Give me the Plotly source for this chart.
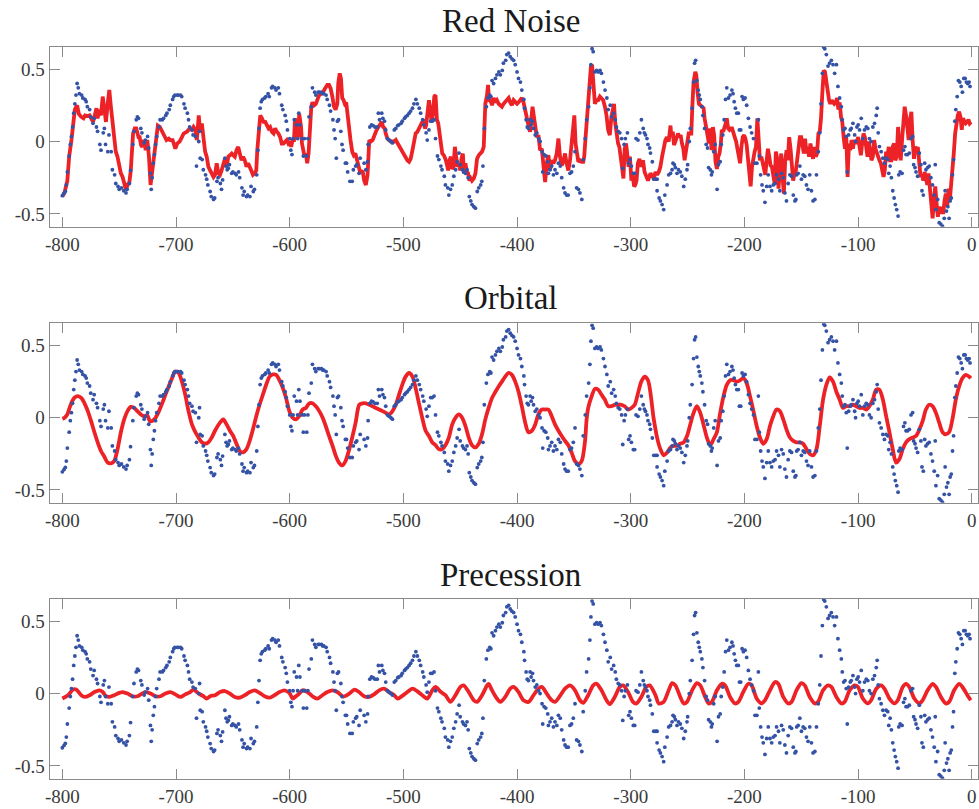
import plotly.graph_objects as go

# ---------------- data ----------------
dot_age = [
-800,-798.5,-797.4,-796.5,-795.6,-794,-793,-792,-791,-790,-789,-788,-787,-786,-785,-783,-782,-780,-779,-778,
-776,-775,-773,-772,-770,-769,-767,-766,-764,-763,-762,-760,-759,-757,-756,-754,-753,-751,-750,-748,
-746,-744,-743,-741,-740,-738,-737,-735,-734,-733,-731,-730,-728,-727,-725,-724,-722.5,-721.8,-721,-720,
-719,-718,-717,-715,-714,-712,-711,-709,-708,-706,-705,-703,-702,-701,-699,-698,-696,-695,-693,-692,
-690,-689,-688,-686,-685,-683,-682,-680,-679.3,-678.7,-677,-676,-674,-673,-672,-670,-669,-667,-666,-664,
-663,-661,-660,-659,-657,-656,-655,-654,-653,-651,-650,-648,-647,-645,-644,-642,-641,-640,-638,-637,
-635,-634,-632,-631,-629,-628,-627,-626,-625,-624,-622,-621,-619,-618,-616,-615,-613,-612,-610,-609,
-607,-606,-604,-603,-602,-600,-599,-598,-597,-596,-594,-593,-592,-591,-589,-588,-587,-585,-584,-583,
-581,-580,-578,-577,-575,-574,-572,-571,-570,-568,-567,-565,-564,-562,-561,-560,-559,-558,-557,-555,
-554,-553,-551,-550,-549,-547,-545,-544,-542,-541,-539,-538,-534.5,-533,-531.5,-531,-529.5,-528,-526.6,-525,
-523,-522,-521,-519,-518,-516.6,-515.5,-514,-512.6,-511,-509.6,-508,-506.7,-505,-504,-502,-501,-499,-498,-496.5,
-495,-493.6,-492,-490.7,-489,-487.7,-486,-484.8,-483,-482,-480,-479,-477.5,-476,-474.6,-473,-471.7,-470,-468.8,-467,
-466,-464,-463,-461,-460,-458.5,-457,-455.6,-454,-452.7,-451,-450,-448,-447,-445.4,-444,-443,-442,-440.7,-439.6,
-438,-436.6,-435,-433.7,-432,-431,-430,-428.8,-427,-425.6,-424,-423,-422,-420.6,-419,-417.7,-416,-414.7,-413,-412,
-410,-409,-407.4,-406,-404.5,-403,-401.6,-400,-398.7,-397,-395.8,-394,-393.4,-392,-391,-390,-388.5,-387.6,-386.4,-385.5,
-384,-382.6,-381,-379.7,-378,-377.4,-376.2,-374.7,-373,-372.4,-371,-369.5,-368,-366.6,-365,-363.6,-362,-360.7,-359,-357.8,
-356.4,-355,-353.4,-352,-350.5,-349,-347.6,-346,-344.7,-343,-341.8,-340,-338.8,-337,-335.9,-335,-334,-333,-331.5,-330,
-328.6,-327,-325.8,-324,-322.6,-321,-319.8,-318,-316.8,-315,-313.6,-312.6,-311,-309.6,-308,-307,-305.8,-304.7,-302.9,-301.8,
-300.6,-299.4,-297.7,-296.5,-295.3,-293.6,-292,-290.6,-289,-288,-287,-285.7,-284.8,-283.3,-282.6,-281,-279.7,-278,-276.8,-276.8,
-275,-273.9,-272.4,-271,-270,-268,-266.6,-265,-263.6,-262.8,-261.6,-260.7,-259.3,-258,-256.4,-255,-253.4,-252,-250.5,-249.9,
-248.5,-247.6,-246,-244.7,-243.8,-242.9,-241.8,-240.6,-239.7,-238.8,-237.4,-236.5,-235,-233.6,-232.4,-231.5,-230,-229,-228.3,-227,
-225.7,-224,-222.8,-221.3,-220.4,-219,-217.8,-216.6,-215.5,-214,-212.6,-211,-210,-209,-207.9,-206.7,-205.3,-204.4,-203.2,-202,
-200.9,-199.4,-198,-196.5,-195,-193.6,-192,-190.7,-189,-187.7,-186.9,-185.7,-184.5,-183.4,-181.9,-180.4,-179,-177.5,-176,-174.6,
-173,-171.7,-170,-168.8,-167.3,-165.8,-164.4,-163,-161.5,-160,-158.5,-157,-155.5,-154.7,-154,-152.7,-151.2,-149.8,-148.3,-146.9,
-145.4,-144,-142.5,-141,-139.6,-138,-136.6,-135,-133.7,-132.6,-131.4,-130.2,-129.3,-127.9,-126.4,-125,-123.5,-122,-120.6,-119,
-117.7,-116.2,-114.7,-113.9,-112.7,-111.5,-110.4,-109.5,-108.3,-106.9,-106,-104.5,-103,-102.2,-101,-99.9,-98.7,-97.2,-95.8,-94.3,
-92.8,-91.4,-90,-88.5,-87,-85.5,-84,-83.2,-82.3,-81.2,-79.7,-78.2,-76.8,-75.3,-73.9,-73,-71.8,-70.7,-69.5,-68.3,
-67.2,-66,-64.8,-64.2,-63,-61.3,-60,-58.8,-57.8,-56.4,-54.9,-53.4,-52,-51.1,-49.9,-49,-47.6,-46.1,-44.7,-43.8,
-42.6,-41.4,-40.3,-38.8,-37.4,-35.9,-34.5,-33,-32.1,-31.5,-30,-28.6,-27.2,-25.7,-24.2,-23.4,-22.2,-21,-19.9,-19,
-18,-16.9,-16,-14.9,-14,-12.8,-11.7,-10.5,-9.3,-8.2,-7,-5.8,-4.7,-3.5,-2.3,-1.5]
dot_val = [
-0.374,-0.358,-0.344,-0.30,-0.21,-0.10,-0.02,0.035,0.10,0.195,0.26,0.32,0.40,0.37,0.33,0.32,0.30,0.29,0.275,0.24,
0.22,0.17,0.125,0.16,0.10,0.07,-0.02,-0.06,0.06,0.09,-0.02,-0.07,0.045,-0.07,-0.195,-0.23,-0.29,-0.31,-0.33,-0.32,
-0.34,-0.355,-0.33,-0.29,-0.20,-0.02,0.07,0.15,0.17,0.16,0.09,0.06,-0.01,0.01,0.035,-0.045,-0.22,-0.33,-0.25,-0.15,
-0.09,-0.02,0.035,0.10,0.15,0.15,0.16,0.18,0.195,0.22,0.25,0.29,0.31,0.32,0.32,0.32,0.32,0.31,0.26,0.23,
0.195,0.15,0.10,0.08,0.045,0.035,-0.17,0.0,0.07,-0.115,-0.125,-0.195,-0.23,-0.26,-0.30,-0.345,-0.38,-0.40,-0.39,-0.275,
-0.25,-0.29,-0.33,-0.265,-0.115,-0.17,-0.195,-0.185,-0.16,-0.22,-0.21,-0.22,-0.23,-0.21,-0.25,-0.32,-0.37,-0.345,-0.38,-0.37,
-0.38,-0.31,-0.345,-0.33,-0.23,-0.06,0.09,0.23,0.275,0.29,0.30,0.31,0.33,0.31,0.37,0.38,0.37,0.355,0.37,0.33,
0.25,0.22,0.18,0.14,0.08,0.02,-0.06,-0.09,0.02,0.15,0.115,0.02,0.195,0.115,0.02,-0.10,0.02,-0.10,0.02,0.17,
0.24,0.37,0.34,0.32,0.34,0.34,0.34,0.33,0.33,0.32,0.29,0.25,0.21,0.15,0.08,0.02,-0.115,0.14,0.15,0.07,
-0.02,-0.06,-0.15,-0.15,-0.21,-0.275,-0.275,-0.195,-0.17,-0.16,-0.22,-0.115,-0.15,-0.195,-0.14,-0.02,0.10,0.115,0.11,0.10,
0.10,0.195,0.15,0.195,0.16,0.14,0.08,0.02,0.01,0.0,-0.01,0.08,0.09,0.11,0.115,0.125,0.14,0.16,0.17,0.18,
0.195,0.21,0.23,0.26,0.29,0.26,0.23,0.195,0.15,0.115,0.06,0.01,0.08,0.14,0.14,0.15,0.02,-0.10,-0.125,-0.17,
-0.195,-0.24,-0.30,-0.32,-0.37,-0.33,-0.30,-0.24,-0.195,-0.14,-0.08,-0.16,-0.195,-0.21,-0.22,-0.195,-0.25,-0.38,-0.41,-0.435,
-0.45,-0.46,-0.345,-0.32,-0.30,-0.275,-0.17,0.09,0.24,0.30,0.32,0.31,0.42,0.40,0.435,0.46,0.48,0.46,0.49,0.54,
0.56,0.60,0.61,0.585,0.57,0.56,0.53,0.48,0.435,0.41,0.355,0.29,0.23,0.15,0.10,0.09,0.15,0.115,0.14,0.09,
0.045,0.06,0.02,0.0,-0.07,-0.21,-0.09,-0.10,-0.14,-0.22,-0.195,-0.17,-0.23,-0.195,-0.22,-0.15,-0.17,-0.25,-0.32,-0.355,
-0.37,-0.37,-0.22,-0.21,-0.17,-0.07,-0.32,-0.33,-0.355,-0.40,-0.125,0.02,0.15,0.24,0.37,0.53,0.64,0.62,0.48,0.49,
0.48,0.49,0.47,0.41,0.355,0.30,0.22,0.25,0.17,0.195,0.15,0.10,0.07,0.06,0.02,-0.185,-0.02,0.02,0.06,-0.15,
-0.125,-0.17,-0.22,-0.22,0.02,0.01,0.06,0.15,0.09,0.06,0.045,0.02,-0.02,-0.045,-0.08,-0.14,-0.26,-0.26,-0.26,-0.34,
-0.39,-0.41,-0.435,-0.47,-0.37,-0.30,-0.23,-0.22,-0.195,-0.15,-0.16,-0.18,-0.22,-0.195,-0.21,-0.24,-0.31,-0.26,-0.195,-0.16,
0.0,0.09,0.23,0.41,0.54,0.56,0.42,0.355,0.32,0.29,0.24,0.18,0.09,-0.02,-0.045,-0.18,-0.195,-0.23,-0.21,-0.07,
-0.02,-0.33,-0.16,-0.14,-0.02,0.045,0.15,0.29,0.37,0.30,0.32,0.355,0.33,0.275,0.23,0.195,0.195,0.08,0.08,0.31,
0.29,0.30,0.25,0.16,0.10,0.06,0.02,-0.15,-0.15,0.15,-0.10,-0.23,-0.30,-0.34,-0.42,-0.31,-0.23,-0.31,-0.34,-0.30,
-0.29,-0.23,-0.26,-0.34,-0.22,-0.25,-0.355,-0.41,-0.29,-0.23,-0.24,-0.37,-0.41,-0.40,-0.23,-0.22,-0.17,-0.26,-0.23,-0.24,
-0.30,-0.33,-0.23,-0.34,-0.41,-0.40,-0.23,-0.07,0.06,0.26,0.47,0.65,0.64,0.60,0.52,0.54,0.56,0.53,0.47,0.53,
0.38,0.30,0.24,0.15,0.08,0.09,0.035,-0.21,0.045,0.08,0.09,0.125,0.045,0.0,0.10,0.115,0.08,0.16,0.02,0.08,
0.10,0.09,0.02,0.0,0.10,0.125,0.18,0.23,0.06,-0.035,-0.07,-0.115,-0.15,-0.115,-0.125,-0.22,-0.17,-0.25,-0.34,-0.39,
-0.435,-0.47,-0.515,-0.23,-0.21,-0.22,-0.06,-0.035,-0.09,-0.09,-0.08,0.02,0.035,-0.16,-0.18,-0.21,-0.24,-0.08,-0.16,-0.34,
-0.37,-0.15,-0.195,-0.18,-0.17,-0.25,-0.30,-0.37,-0.16,-0.47,-0.40,-0.56,-0.57,-0.585,-0.53,-0.34,-0.48,-0.45,-0.53,-0.41,
-0.39,-0.23,-0.125,0.14,0.22,0.31,0.42,0.41,0.38,0.34,0.435,0.435,0.41,0.40,0.41,0.38]

rn_age = [
-800,-798,-795.6,-794,-792,-790.7,-789,-787,-785.5,-783.4,-781.4,-780,-777.6,-776,-774.7,-773,-771.8,-770,-769,-767.4,
-766,-764.5,-763,-761.6,-760,-758.7,-757.3,-755.8,-754.4,-753,-751.5,-750,-748.5,-747,-745.6,-744,-742.7,-741,-739.8,-739,
-737.8,-736.3,-735,-733,-732,-730.8,-729.7,-728.2,-726.7,-725.3,-723.8,-722.4,-721,-719.5,-718,-716,-714.2,-712.2,-709.9,-708.4,
-706.4,-705,-703,-700.6,-699,-696.8,-694.8,-693.3,-690.4,-688,-686,-684.6,-683,-681.7,-680,-678.8,-677.3,-675.9,-674.4,-673,
-671.5,-670,-668.6,-667,-665.7,-664.2,-662.8,-661.3,-659.9,-658.4,-657,-655.5,-654,-652.6,-651,-649.7,-648.3,-646.8,-645.3,-643.9,
-642.4,-641,-639.5,-638,-636.6,-635.2,-633.7,-632.3,-630.8,-629.4,-628.5,-627.3,-625.9,-624.4,-623,-621.5,-620,-618.6,-617.2,-615.7,
-614.2,-612.8,-611.3,-609.9,-608.4,-607,-605.5,-604,-602.6,-601.2,-599.7,-598.8,-597.4,-596.2,-595.3,-594.2,-592.7,-591.6,-590,-589.2,
-588,-586.9,-585.8,-584.6,-583.4,-582.3,-581,-580,-578.5,-577,-575.6,-574.1,-572.4,-570.6,-568.9,-566.9,-565.4,-564,-562.5,-561,
-559.6,-558.1,-557.3,-556,-554.9,-553.8,-552.6,-551.5,-550.3,-549.1,-548,-546.5,-545,-543.6,-542.2,-540.7,-539.2,-537.8,
-535.9,-534.5,-533,-531.5,-530,-528.6,-527,-525.7,-524.2,-522.8,-521.3,-519.9,-518.9,-517.8,-516.4,-515.5,-514,-512.6,-511,-509.6,
-508.2,-506.7,-505.3,-503.8,-502.3,-500.9,-499.4,-498,-496.5,-495,-493.6,-492,-490.7,-489.2,-487.7,-486.3,-484.8,-483.4,-481.9,-481,
-480,-478.7,-477.5,-476.4,-475.2,-474,-472.8,-471.7,-470.5,-469.3,-468.2,-467,-465.8,-464.4,-463,-461.5,-460.6,-459.4,-458.2,-457,
-455.9,-454.7,-453.6,-452.4,-451.2,-450,-448.9,-447.7,-446.6,-445.4,-444.2,-443,-441.9,-440.7,-439.6,-438,-436.6,-435.2,-433.7,-432.3,
-430.8,-429.3,-427.9,-426.4,-425.5,-424.7,-423.5,-422,-420.6,-419.1,-417.7,-416.2,-414.7,-413.3,-411.8,-410.4,-408.9,-407.4,-406,-404.5,
-403,-401.6,-400,-398.7,-397.2,-395.8,-394.3,-392.8,-391.4,-389.9,-388.5,-387.6,-386.4,-385.3,-384,-382.6,-381.2,-379.7,-378.2,-376.8,
-375.3,-373.9,-372.4,-371,-369.5,-368,-366.6,-365.1,-363.6,-362.2,-360.7,-359.3,-357.8,-356.4,-354.9,-353.4,-352,-350.5,-349.6,-348.5,
-347.3,-346.1,-344.7,-343.2,-341.8,-340.9,-339.7,-338.5,-337.4,-336.2,-335,-334,-332.7,-331.5,-330,-328.6,-327.1,-325.7,-324.2,-322.7,
-321.3,-319.9,-318.4,-317,-315.5,-314.7,-313.6,-312.3,-311.1,-310,-308.8,-307.7,-306.4,-305.3,-304.1,-303,-301.8,-300.7,-299.4,-298.3,
-297.1,-296,-294.9,-293.7,-292.3,-290.6,-289.2,-287.8,-286.3,-284.8,
-282.6,-279.7,-278.2,-276.8,-275.3,-273.9,-272.4,-271,-269.5,-268,-266.6,-265,-264.2,-263,-261.9,-260.7,-259.6,-258.4,-257.2,-256.1,
-254.9,-253.7,-252.6,-251.4,-250.2,-249,-247.9,-246.7,-245.8,-244.7,-243.2,-242.3,-241.2,-240,-238.8,-237.4,-235.9,-235,-233.6,-232.4,
-231.2,-230,-228.9,-227.7,-226.6,-225.4,-224.2,-223,-221.9,-220.7,-219.9,-218.7,-217.5,-216.4,-215.5,-214.3,-213.1,-212,-210.8,-209.6,
-208.5,-207.3,-206.1,-205,-203.8,-202.6,-201.5,-200.3,-199.1,-198,-196.8,-195.6,-194.5,-193.3,-192.1,-191,-189.8,-188.6,-187.4,-186.3,
-185.1,-184,-182.8,-181.6,-180.4,-179.3,-178.1,-177,-175.8,-174.6,-173.4,-172.3,-171.1,-170,-168.8,-167.6,-166.4,-165.3,-164.1,-162.9,
-161.8,-160.6,-159.4,-158.2,-157.1,-155.9,-154.7,-153.6,-152.4,-151.2,-150,-148.9,-147.7,-146.6,-145.4,-144.2,-143.1,-141.9,-140.7,-139.6,
-138.4,-137.2,-136.1,-134.9,-133.7,-132.6,-131.4,-130.2,-129.1,-127.9,-126.7,-125.5,-124.4,-123.2,-122,-120.9,-119.7,-118.5,-117.3,-116.2,
-115,-113.9,-112.7,-111.5,-110.4,-109.2,-108,-106.9,-105.7,-104.5,-103.4,-102.2,-101,-99.9,-98.7,-97.5,-96.4,-95.2,-94,-92.8,
-91.7,-90.5,-89.3,-88.2,-87,-85.8,-84.7,-83.5,-82.3,-81.2,-80,-78.8,-77.6,-76.5,-75.3,-74.2,-73,-71.8,-70.7,-69.5,
-68.3,-67.2,-66,-64.8,-63.6,-62.5,-61.3,-60.1,-59,-57.8,-56.6,-55.5,-54.3,-53.1,-52,-50.8,-49.6,-48.5,-47.3,-46.1,
-45,-43.8,-42.6,-41.5,-40.3,-39.1,-38,-36.8,-35.6,-34.4,-33.3,-32.1,-30.9,-29.8,-28.6,-27.4,-26.3,-25.1,-23.9,-22.8,
-21.6,-20.4,-19.3,-18.1,-16.9,-15.8,-14.6,-13.4,-12.3,-11.1,-9.9,-8.8,-7.6,-6.4,-5.3,-4.1,-2.9,-1.8,-0.6]
rn_val = [
-0.38,-0.35,-0.27,-0.105,0.01,0.125,0.22,0.25,0.19,0.17,0.16,0.18,0.175,0.18,0.16,0.135,0.17,0.23,0.16,0.22,
0.18,0.31,0.22,0.135,0.27,0.355,0.24,0.125,0.01,-0.07,-0.105,-0.175,-0.22,-0.245,-0.29,-0.335,-0.30,-0.28,-0.20,-0.037,
0.055,0.09,0.09,0.03,0.03,-0.025,-0.037,0.01,-0.06,0.01,-0.105,-0.30,-0.20,-0.105,0.01,0.11,0.10,0.067,0.044,0.01,
0.02,0.01,0.01,-0.05,-0.014,0.0,0.03,0.055,0.067,0.09,0.08,0.10,0.08,0.01,0.18,0.067,0.125,0.01,-0.07,-0.105,
-0.175,-0.20,-0.22,-0.245,-0.23,-0.15,-0.22,-0.23,-0.20,-0.15,-0.12,-0.175,-0.105,-0.095,-0.083,-0.095,-0.105,-0.06,-0.037,-0.083,
-0.13,-0.105,-0.13,-0.175,-0.15,-0.175,-0.20,-0.23,-0.22,-0.20,-0.06,0.10,0.18,0.16,0.135,0.135,0.11,0.09,0.10,0.067,
0.055,0.09,0.067,0.055,0.03,-0.014,-0.014,0.0,0.01,-0.014,0.0,-0.037,0.01,0.01,0.16,0.067,0.03,0.19,0.10,-0.014,
-0.06,-0.105,-0.083,-0.15,-0.083,0.11,0.24,0.27,0.25,0.26,0.285,0.32,0.33,0.34,0.366,0.39,0.39,0.366,0.31,0.24,
0.22,0.26,0.40,0.47,0.435,0.30,0.285,0.26,0.27,0.17,0.10,0.01,-0.07,-0.095,-0.083,-0.13,-0.19,-0.22,
-0.20,-0.27,-0.30,-0.23,0.01,0.0,0.01,0.044,0.067,0.09,0.11,0.125,0.135,0.10,0.09,0.055,0.02,0.01,0.0,0.0,
0.0,0.01,-0.014,-0.025,-0.05,-0.07,-0.095,-0.12,-0.13,-0.14,-0.12,-0.06,0.01,0.055,0.067,0.09,0.125,0.135,0.15,0.09,
0.11,0.18,0.285,0.22,0.135,0.19,0.31,0.32,0.15,0.125,0.067,-0.014,-0.083,-0.095,-0.12,-0.165,-0.20,-0.13,-0.105,-0.19,
-0.175,-0.037,-0.105,-0.175,-0.15,-0.20,-0.12,-0.083,-0.22,-0.15,-0.21,-0.22,-0.27,-0.255,-0.27,-0.255,-0.22,-0.12,-0.095,-0.083,
-0.07,-0.037,0.26,0.32,0.39,0.285,0.285,0.25,0.30,0.27,0.285,0.26,0.25,0.24,0.26,0.27,0.285,0.30,0.27,0.25,
0.285,0.27,0.26,0.27,0.285,0.30,0.27,0.205,0.15,0.11,0.067,0.15,0.24,0.18,0.10,0.03,0.044,-0.06,-0.05,-0.15,
-0.28,-0.15,-0.095,-0.20,-0.13,-0.15,-0.13,-0.083,0.02,-0.105,-0.165,-0.14,-0.083,-0.15,-0.20,-0.13,-0.014,0.10,0.18,-0.014,
-0.105,-0.14,-0.13,-0.14,-0.14,-0.105,0.03,0.15,0.25,0.355,0.52,0.53,0.42,0.26,0.285,0.285,0.31,0.30,0.285,0.24,
0.18,0.08,0.044,0.17,0.22,0.26,0.125,0.03,-0.014,-0.037,-0.14,-0.175,-0.255,-0.05,-0.014,-0.083,-0.175,-0.105,-0.27,-0.22,
-0.31,-0.30,-0.27,-0.15,-0.12,-0.175,-0.13,-0.21,-0.245,-0.27,
-0.22,-0.255,-0.21,-0.23,-0.21,-0.175,-0.105,-0.037,0.01,0.03,0.0,0.11,0.03,0.067,-0.025,0.0,0.03,0.055,0.03,0.044,
-0.014,-0.05,-0.13,-0.05,0.01,0.055,0.055,0.055,0.24,0.41,0.48,0.46,0.34,0.26,0.25,0.24,0.23,0.16,0.09,0.055,
-0.014,0.09,-0.06,0.10,0.044,-0.14,-0.19,-0.105,-0.083,-0.014,0.08,0.067,0.09,0.125,0.16,0.09,0.08,0.09,0.09,0.067,
0.03,0.0,-0.05,-0.083,-0.15,-0.037,0.03,0.044,0.02,-0.025,-0.105,-0.20,-0.31,-0.175,-0.105,-0.07,-0.037,0.16,0.01,-0.13,
-0.105,-0.14,-0.175,-0.23,-0.13,-0.05,-0.105,-0.165,-0.175,-0.255,-0.29,-0.07,-0.12,-0.325,-0.20,-0.083,-0.245,-0.36,-0.13,-0.06,
-0.13,0.03,-0.05,-0.175,-0.27,-0.22,-0.20,-0.13,-0.06,0.03,0.03,-0.014,-0.083,0.02,-0.083,-0.037,-0.105,-0.014,-0.083,-0.12,
-0.037,-0.105,-0.083,0.055,0.067,0.16,0.34,0.49,0.48,0.40,0.31,0.285,0.26,0.285,0.27,0.26,0.27,0.30,0.22,0.27,
0.17,0.135,0.03,-0.05,0.03,-0.245,-0.014,-0.06,0.01,-0.05,0.01,-0.014,0.0,0.03,-0.037,-0.095,-0.014,0.055,0.03,-0.05,
-0.105,0.0,-0.105,-0.13,-0.105,0.01,-0.05,-0.083,-0.105,-0.13,-0.15,-0.22,-0.245,-0.20,-0.07,-0.105,-0.037,-0.13,-0.13,-0.037,
-0.014,-0.13,-0.105,0.10,-0.06,-0.13,0.01,0.15,0.24,0.18,0.055,0.01,0.15,0.205,0.01,-0.12,-0.037,-0.05,-0.05,-0.13,
-0.245,-0.23,-0.27,-0.21,-0.245,-0.30,-0.22,-0.31,-0.405,-0.53,-0.405,-0.31,-0.43,-0.52,-0.45,-0.50,-0.45,-0.50,-0.405,-0.36,
-0.45,-0.325,-0.405,-0.31,-0.20,-0.083,0.055,0.125,0.18,0.205,0.17,0.08,0.16,0.135,0.125,0.135,0.15,0.125,0.135]

orb_age = [
-800,-798,-795.6,-793.6,-791.6,-789.2,-786.3,-783.4,-780.5,-777.6,-774.7,-771.8,-768.9,-766,-763,-760.2,-757.3,-754.4,-751.5,-748.5,
-745.6,-742.7,-739.8,-736.9,-734,-731,-728.2,-725.3,-723,-721,-718,-715,-712.2,-709.3,-706.4,-703.5,-700.6,-697.7,-694.8,-691.9,
-689,-686,-683,-680.2,-677.3,-674.4,-671.5,-668.6,-665.7,-661.3,-658.4,-655.5,-652.6,-649.7,-646.8,-643.9,-641,-638,-635.2,-632.3,
-629.4,-626.5,-623.6,-620.6,-617.7,-614.8,-611.9,-609,-606,-603.2,-600.3,-597.4,-594.5,-591.6,-588.7,-585.8,-582.8,-580,-577,-574,
-571,-568.3,-565.4,-562.5,-559.6,-556.7,-553.8,-550.9,-548,-545,-542,
-538.8,-535.9,-533,-530,-527.2,-524.2,-521.3,-518.4,-515.5,-512.6,-509.6,-506.7,-503.8,-500.9,-498,-495,-492,-489.2,-486.3,-483.4,
-480.4,-477.5,-474.6,-471.7,-468.8,-465.8,-463,-460,-457,-454.2,-451.2,-448.3,-445.4,-442.5,-439.6,-436.6,-433.7,-430.8,-427.9,-425,
-422,-419,-416.2,-413.3,-410.4,-407.4,-404.5,-401.6,-398.7,-395.8,-392.8,-390,-387,-384,-381.2,-378.2,-375.3,-372.4,-369.5,-366.6,
-363.6,-360.7,-357.8,-354.9,-352,-349,-346.1,-343.2,-340.3,-338.8,-337.4,-334.4,-331.5,-328.6,-325.7,-322.8,-319.9,-317,-314,-311.1,
-308.2,-305.3,-302.3,-299.4,-296.5,-293.6,-290.7,-287.7,-284.8,
-279.7,-276.8,-273.9,-271,-268,-265,-262.2,-259.3,-256.4,-253.4,-250.5,-247.6,-244.7,-241.8,-238.8,-236,-233,-230,-227.2,-224.2,
-221.3,-218.4,-215.5,-212.6,-209.6,-206.7,-203.8,-200.9,-198,-195,-192,-189.2,-186.3,-183.4,-180.4,-177.5,-174.6,-171.7,-168.8,-165.8,
-163,-160,-157,-154.2,-151.2,-148.3,-145.4,-142.5,-139.6,-136.6,-133.7,-130.8,-127.9,-125,-122,-119.1,-116.2,-113.3,-110.4,-107.4,
-104.5,-101.6,-98.7,-95.8,-92.8,-90,-87,-84.1,-81.2,-78.2,-75.3,-72.4,-69.5,-66.6,-63.6,-60.7,-57.8,-54.9,-51.9,-49,
-46,-43.2,-40.3,-37.4,-34.5,-31.5,-28.6,-25.7,-22.8,-19.9,-17,-14,-11.1,-8.2,-5.3,-2.3,-0.8]
orb_val = [
-0.007,0.0,0.023,0.07,0.11,0.14,0.15,0.137,0.10,0.046,-0.023,-0.10,-0.17,-0.23,-0.27,-0.31,-0.315,-0.30,-0.22,-0.10,
-0.011,0.046,0.075,0.068,0.046,0.023,0.011,0.016,-0.023,-0.023,0.0,0.046,0.10,0.16,0.217,0.274,0.32,0.31,0.25,0.16,
0.046,-0.046,-0.10,-0.137,-0.17,-0.18,-0.17,-0.137,-0.09,-0.034,-0.011,-0.046,-0.09,-0.126,-0.18,-0.23,-0.24,-0.217,-0.16,-0.08,
0.011,0.09,0.16,0.23,0.285,0.30,0.297,0.26,0.205,0.137,0.046,0.0,-0.011,0.011,0.057,0.068,0.10,0.10,0.08,0.046,
0.0,-0.057,-0.126,-0.19,-0.26,-0.31,-0.33,-0.30,-0.23,-0.137,-0.034,
0.09,0.10,0.10,0.09,0.08,0.068,0.057,0.046,0.034,0.023,0.046,0.09,0.16,0.23,0.285,0.31,0.285,0.205,0.10,0.0,
-0.09,-0.126,-0.17,-0.19,-0.217,-0.217,-0.19,-0.137,-0.046,0.0,0.023,0.0,-0.057,-0.137,-0.19,-0.205,-0.18,-0.114,-0.011,0.068,
0.137,0.18,0.217,0.25,0.285,0.31,0.297,0.25,0.18,0.08,-0.034,-0.10,-0.09,-0.046,0.023,0.057,0.057,0.057,0.011,-0.046,
-0.09,-0.126,-0.16,-0.19,-0.24,-0.30,-0.32,-0.30,-0.17,-0.011,0.068,0.148,0.20,0.194,0.16,0.126,0.08,0.08,0.09,0.09,
0.09,0.08,0.057,0.068,0.09,0.17,0.25,0.285,0.26,
-0.011,-0.137,-0.217,-0.26,-0.24,-0.205,-0.194,-0.194,-0.18,-0.17,-0.126,-0.046,0.034,0.08,0.034,-0.046,-0.137,-0.19,-0.15,-0.10,
0.034,0.148,0.228,0.26,0.26,0.25,0.26,0.274,0.24,0.148,0.046,-0.057,-0.137,-0.18,-0.148,-0.057,0.011,0.057,0.046,-0.011,
-0.08,-0.137,-0.16,-0.17,-0.17,-0.18,-0.217,-0.25,-0.26,-0.217,-0.057,0.126,0.228,0.28,0.25,0.18,0.126,0.068,0.08,0.08,
0.09,0.08,0.068,0.068,0.057,0.08,0.126,0.194,0.194,0.126,0.011,-0.10,-0.217,-0.31,-0.285,-0.217,-0.17,-0.148,-0.137,-0.126,
-0.08,-0.023,0.057,0.09,0.08,0.034,-0.034,-0.10,-0.114,-0.10,-0.011,0.126,0.217,0.274,0.297,0.285,0.274]

pre_age = [
-800,-795,-790.7,-787.8,-783.4,-780.5,-776,-771.8,-767.4,-764.5,-761.6,-758.7,-754.4,-750,-747,-742.7,-738.4,-734,-731,-726.7,
-722.4,-718,-713.7,-709.3,-705,-700.6,-696.2,-691.9,-687.5,-684.6,-681.7,-678.8,-675.9,-673,-670,-665.7,-661.3,-657,-652.6,-648.3,
-643.9,-639.5,-635.2,-630.8,-626.5,-622.1,-617.7,-613.4,-609,-604.7,-600.3,-597.4,-594.5,-591.6,-588.7,-584.3,-580,-575.6,-571.2,-566.9,
-562.5,-558.1,
-553,-547.6,-543,-539,-534.5,-530,-525.7,-521.3,-517,-512.6,-508,-505,-501,-496.5,-492,-487.7,-483.4,-479,-474.6,-471.7,
-467,-463,-458.5,-454.2,-449.8,-447,-442.5,-438,-435.2,-430.8,-426.4,-425,-422,-417.7,-414.7,-410.4,-406,-403,-398.7,-394.3,
-389.9,-385.5,-381.2,-378.2,-373.9,-369.5,-366.6,-362.2,-357.8,-353.4,-349,-344.7,-341.8,-337.4,-333,-330,-325.7,-321.3,-318.4,-314,
-309.6,-306.7,-302.3,-298,-295,-290.7,-286.3,-283.3,
-278.2,-275.3,-271,-266.6,-263.6,-260.7,-256.4,-253.4,-250.5,-246,-241.8,-238.8,-234.5,-231.5,-228.6,-224.2,-219.9,-217,-212.6,-208.2,
-205.3,-201,-196.5,-193.6,-189.2,-184.8,-181.9,-177.5,-173.1,-170.2,-165.8,-161.5,-158.5,-154.2,-149.8,-146.9,-142.5,-138,-135.2,-130.8,
-126.4,-123.5,-119.1,-114.7,-111.8,-107.4,-103,-100.1,-95.8,-91.4,-88.5,-84,-79.7,-76.8,-72.4,-68,-65.1,-60.7,-57.8,-54.9,
-50.5,-46.1,-43.2,-38.8,-34.4,-31.5,-27.1,-22.8,-19.9,-15.5,-11.1,-8.2,-3.8,-0.9]
pre_val = [
-0.034,-0.011,0.028,0.028,-0.011,-0.023,-0.011,0.011,0.023,0.011,-0.018,-0.023,-0.011,0.005,0.011,0.0,-0.018,-0.018,-0.005,0.011,
0.0,-0.018,-0.018,0.0,0.011,-0.005,-0.023,-0.005,0.011,0.028,0.011,-0.005,-0.018,-0.034,-0.018,-0.011,0.011,0.018,0.0,-0.023,
-0.028,-0.011,0.011,0.023,0.005,-0.018,-0.028,-0.011,0.011,0.023,0.005,-0.034,-0.018,0.0,0.023,0.011,-0.018,-0.034,-0.011,0.011,
0.023,0.011,
-0.02,0.0,0.028,0.011,-0.018,-0.023,-0.005,0.023,0.034,0.011,-0.011,-0.034,-0.016,0.011,0.034,0.016,-0.011,-0.034,0.023,0.046,
0.011,-0.011,-0.057,-0.011,0.046,0.057,0.011,-0.046,-0.057,-0.011,0.057,0.068,0.023,-0.034,-0.057,-0.023,0.034,0.046,0.011,-0.046,
-0.057,-0.011,0.034,0.046,0.0,-0.046,-0.057,-0.016,0.034,0.057,0.023,-0.046,-0.064,-0.011,0.057,0.068,0.023,-0.046,-0.073,-0.023,
0.046,0.057,0.011,-0.057,-0.068,-0.023,0.046,0.057,
-0.011,-0.068,-0.057,0.023,0.073,0.057,-0.023,-0.068,-0.057,0.023,0.073,0.057,-0.023,-0.068,-0.057,0.023,0.068,0.057,-0.023,-0.068,
-0.057,0.011,0.068,0.057,-0.034,-0.068,-0.046,0.023,0.08,0.068,-0.023,-0.068,-0.057,0.023,0.073,0.057,-0.023,-0.068,-0.057,0.023,
0.057,0.046,-0.023,-0.068,-0.057,0.023,0.057,0.046,-0.034,-0.068,-0.046,0.034,0.057,0.034,-0.034,-0.068,-0.046,0.046,0.068,0.046,
-0.034,-0.068,-0.046,0.023,0.068,0.046,-0.023,-0.068,-0.057,0.023,0.068,0.046,-0.011,-0.046]

titles = ["Red Noise", "Orbital", "Precession"]
models = [(rn_age, rn_val), (orb_age, orb_val), (pre_age, pre_val)]
model_shapes = ["linear", "spline", "spline"]
x_ticks = [-800, -700, -600, -500, -400, -300, -200, -100, 0]
x_ticktext = ["-800", "-700", "-600", "-500", "-400", "-300", "-200", "-100", "0"]
y_ticks = [-0.5, 0, 0.5]
y_ticktext = ["-0.5", "0", "0.5"]

# ---------------- figure ----------------
W, H = 979, 809
RED = "#EC2227"
BLUE = "#3553A6"
GREY = "#8A8A8A"
FONT = "Liberation Serif"

panels_px = [(46.7, 226.7), (323.3, 502.7), (599.0, 778.7)]
title_px = [21, 298, 575]
x_left_px = 45
px_per_unit = 915 / 800.0
x_min = -800 - (57.7 - x_left_px) / px_per_unit
x_max = x_min + (W - x_left_px) / px_per_unit

fig = go.Figure()
axis_common = dict(showline=True, linecolor=GREY, linewidth=1.3, mirror="ticks",
                   ticks="inside", ticklen=10, tickwidth=1.3, tickcolor=GREY,
                   showgrid=False, zeroline=False, ticklabeloverflow="allow",
                   tickfont=dict(family=FONT, size=19, color="#3a3a3a"))

for i, (title, (ma, mv)) in enumerate(zip(titles, models)):
    n = "" if i == 0 else str(i + 1)
    fig.add_trace(go.Scatter(x=ma, y=mv, mode="lines",
                             line=dict(color=RED, width=3.8, shape=model_shapes[i], smoothing=0.8),
                             xaxis="x" + n, yaxis="y" + n, showlegend=False))
    fig.add_trace(go.Scatter(x=dot_age, y=dot_val, mode="markers",
                             marker=dict(color=BLUE, size=3.8, line=dict(width=0)),
                             xaxis="x" + n, yaxis="y" + n, showlegend=False))
    top, bot = panels_px[i]
    fig.layout["xaxis" + n] = dict(domain=[x_left_px / W, 1.0], range=[x_min, x_max],
                                   anchor="y" + n, tickvals=x_ticks, ticktext=x_ticktext,
                                   **axis_common)
    fig.layout["yaxis" + n] = dict(domain=[1 - bot / H, 1 - top / H], range=[-0.588, 0.654],
                                   anchor="x" + n, tickvals=y_ticks, ticktext=y_ticktext,
                                   **axis_common)
    fig.add_annotation(text=title, x=(45 + 973) / 2 / W, y=1 - title_px[i] / H,
                       xref="paper", yref="paper", xanchor="center", yanchor="middle",
                       showarrow=False, font=dict(family=FONT, size=33, color="#1a1a1a"))

fig.update_layout(width=W, height=H, margin=dict(l=0, r=0, t=0, b=0),
                  plot_bgcolor="white", paper_bgcolor="white")
fig.write_html("out.html", config={"displayModeBar": False},
               post_script="document.body.style.margin='0px';document.body.style.overflow='hidden';")
